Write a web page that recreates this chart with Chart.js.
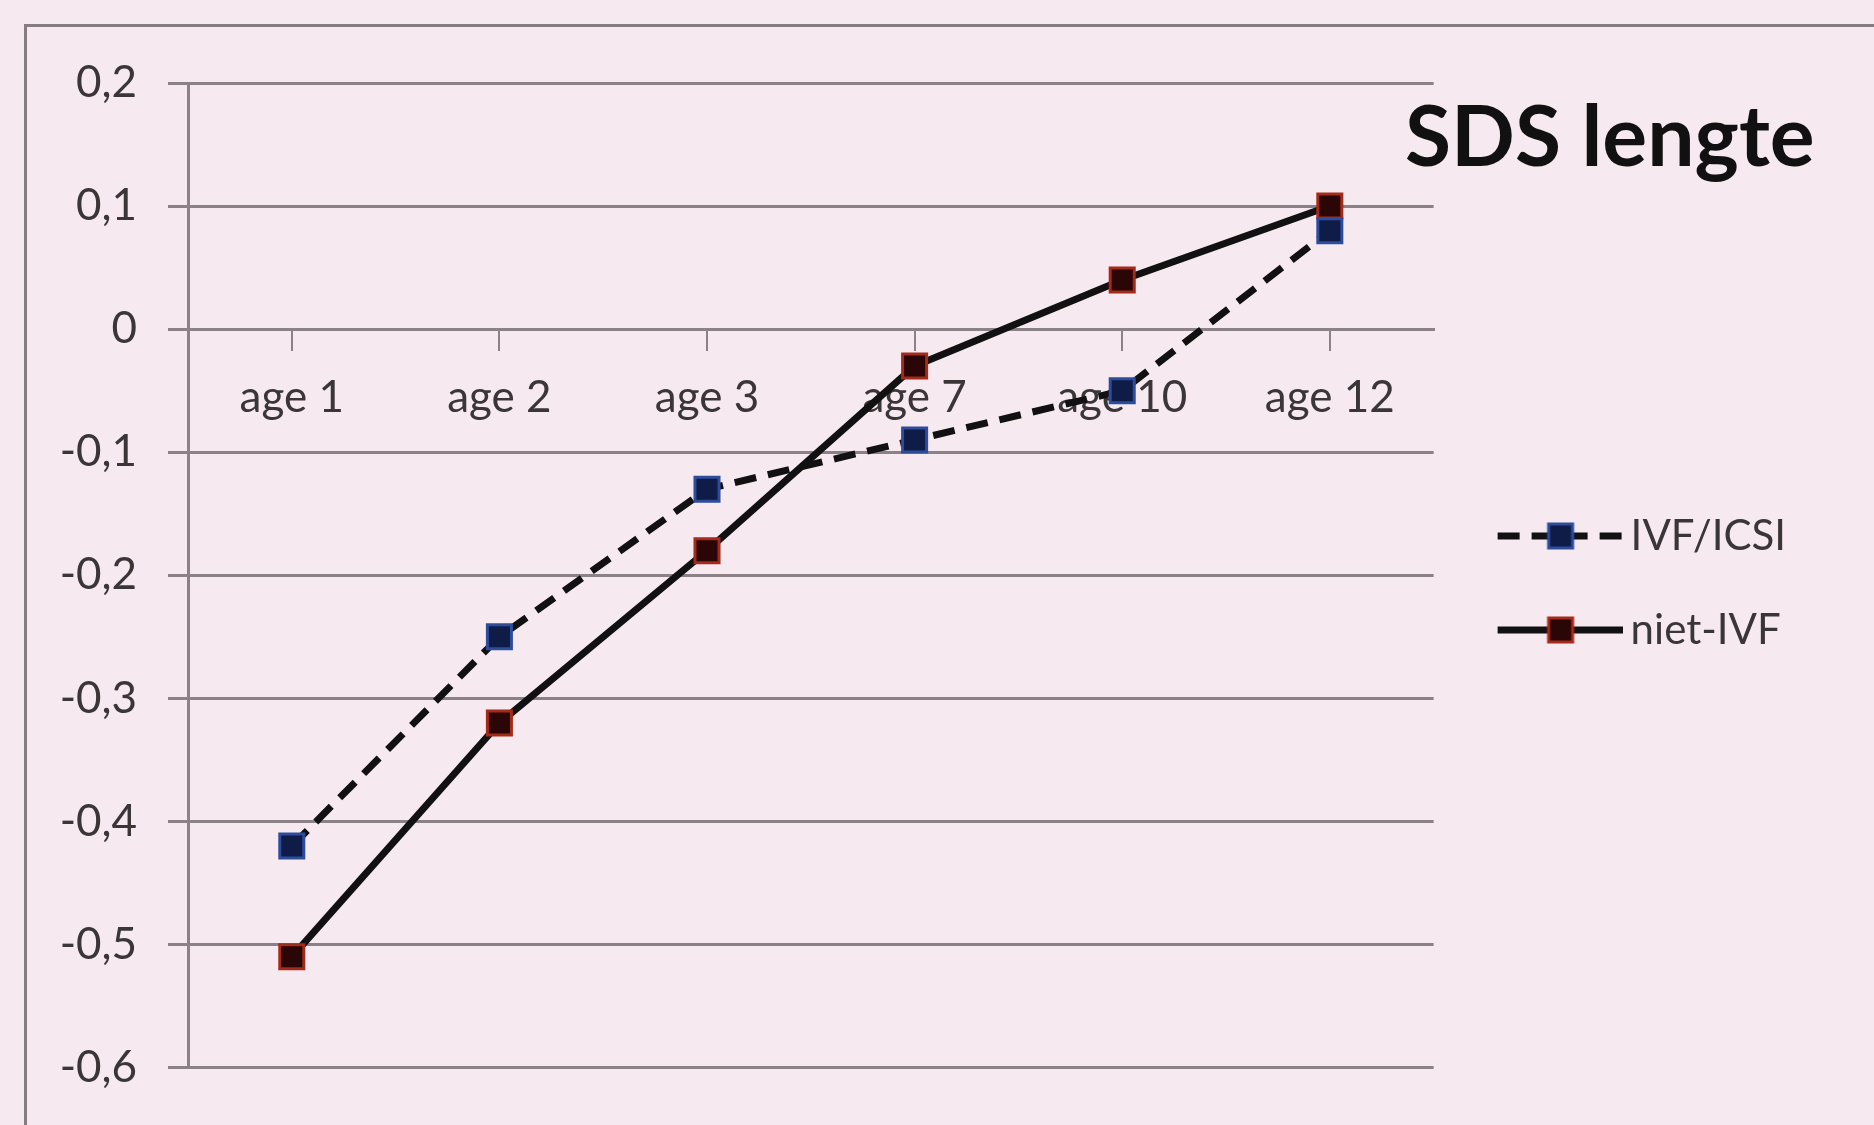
<!DOCTYPE html>
<html>
<head>
<meta charset="utf-8">
<script src="https://cdn.jsdelivr.net/npm/chart.js@4.4.1/dist/chart.umd.min.js"></script>
<style>
  html, body { margin: 0; padding: 0; background: #f6eaf0; overflow: hidden; }
  #frame {
    position: absolute; left: 24px; top: 24px; right: -10px; bottom: -10px;
    border-left: 3px solid #857c80; border-top: 3px solid #857c80;
  }
  #title {
    position: absolute; left: 1405px; top: 83px;
    font: bold 84px Lato, sans-serif; color: #111;
  }
  canvas { position: absolute; left: 0; top: 0; }
</style>
</head>
<body>
<div id="frame"></div>
<canvas id="chart" width="1874" height="1125"></canvas>
<div id="title">SDS lengte</div>
<script>
const ages = ["age 1", "age 2", "age 3", "age 7", "age 10", "age 12"]
const ivfIcsi = [-0.42, -0.25, -0.13, -0.09, -0.05, 0.08]
const nietIvf = [-0.51, -0.32, -0.18, -0.03, 0.04, 0.10]

const gridColor = "#8a8286"
const textColor = "#3a3536"

// legend samples: line (dashed or solid) with the square marker on it
function sample(dash, fill, edge) {
  const c = document.createElement("canvas")
  c.width = 150
  c.height = 30
  const ctx = c.getContext("2d")
  ctx.strokeStyle = "#111"
  ctx.lineWidth = 7
  ctx.setLineDash(dash)
  ctx.beginPath()
  ctx.moveTo(25, 15)
  ctx.lineTo(150, 15)
  ctx.stroke()
  ctx.setLineDash([])
  ctx.fillStyle = fill
  ctx.strokeStyle = edge
  ctx.lineWidth = 3
  ctx.fillRect(76, 3, 24, 24)
  ctx.strokeRect(76, 3, 24, 24)
  return c
}

const legendSamples = [
  sample([22, 12], "#0f1c48", "#2d4d9c"),
  sample([], "#2a0606", "#a42a1a"),
]

const fmt = v => {
  const r = Math.round(v * 10) / 10
  return r === 0 ? "0" : r.toFixed(1).replace(".", ",")
}

new Chart(document.getElementById("chart"), {
  type: "line",
  data: {
    labels: ages,
    datasets: [
      {
        label: "IVF/ICSI",
        data: ivfIcsi,
        borderColor: "#111",
        borderWidth: 7,
        borderDash: [22, 12],
        pointStyle: "rect",
        pointRadius: 17,
        pointBackgroundColor: "#0f1c48",
        pointBorderColor: "#2d4d9c",
        pointBorderWidth: 3,
        tension: 0,
      },
      {
        label: "niet-IVF",
        data: nietIvf,
        borderColor: "#111",
        borderWidth: 7,
        pointStyle: "rect",
        pointRadius: 17,
        pointBackgroundColor: "#2a0606",
        pointBorderColor: "#a42a1a",
        pointBorderWidth: 3,
        tension: 0,
      },
    ],
  },
  options: {
    responsive: false,
    animation: false,
    devicePixelRatio: 1,
    layout: { padding: { left: 38, top: 83, right: 78, bottom: 42 } },
    scales: {
      x: {
        position: { y: 0 },
        offset: true,
        grid: { drawOnChartArea: false, tickLength: 20, color: gridColor, lineWidth: 2 },
        border: { color: gridColor, width: 3 },
        ticks: { color: textColor, padding: 22, font: { family: "Lato", size: 44 } },
      },
      y: {
        min: -0.6,
        max: 0.2,
        afterFit: s => { s.width = 150 },
        grid: { color: gridColor, lineWidth: 3, tickLength: 20 },
        border: { color: gridColor, width: 3 },
        ticks: {
          stepSize: 0.1,
          color: textColor,
          padding: 31,
          font: { family: "Lato", size: 44 },
          callback: v => fmt(v),
        },
      },
    },
    plugins: {
      title: { display: false },
      tooltip: { enabled: false },
      legend: {
        position: "right",
        labels: {
          usePointStyle: true,
          pointStyleWidth: 124,
          padding: 52,
          color: textColor,
          font: { family: "Lato", size: 42 },
          generateLabels: chart => {
            const items = Chart.defaults.plugins.legend.labels.generateLabels(chart)
            items.forEach((item, i) => { item.pointStyle = legendSamples[i] })
            return items
          },
        },
      },
    },
  },
})
</script>
</body>
</html>
